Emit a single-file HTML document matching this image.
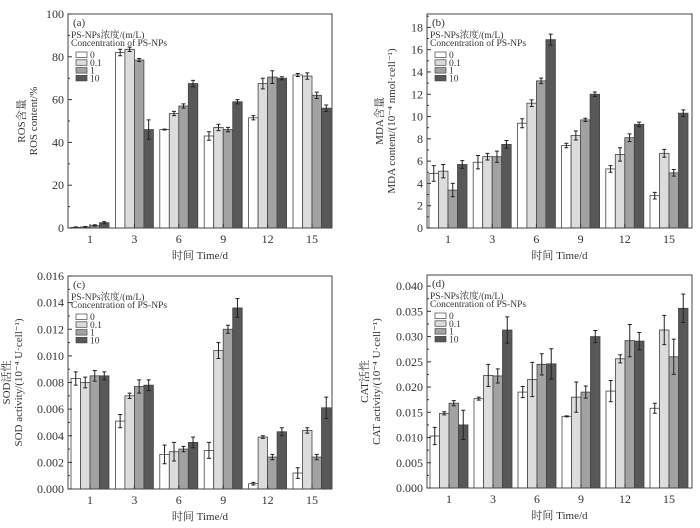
<!DOCTYPE html>
<html><head><meta charset="utf-8">
<style>
html,body{margin:0;padding:0;background:#fff;}
svg text{font-family:"Liberation Serif","Noto Serif CJK SC","Noto Sans CJK SC",serif;fill:#333;}
</style></head>
<body>
<svg id="fig" width="700" height="523" viewBox="0 0 700 523" xmlns="http://www.w3.org/2000/svg"></svg>
<script>
const categories = ["1","3","6","9","12","15"];
const seriesNames = ["0","0.1","1","10"];
const rosValues = [[0.3,0.5,1.2,2.5],[82,83.5,78.5,46],[46,53.5,57,67.5],[43,47,46,59],[51.5,67.5,70.5,70],[71.5,71,62,56]];
const rosErrors = [[0.2,0.2,0.3,0.5],[1.5,1,0.7,4.5],[0.2,1,1,1.5],[2,1.5,1,1],[1,2.5,3,0.7],[0.7,1.5,1.5,1.5]];
const rosTicks = ["0","20","40","60","80","100"];
const mdaValues = [[4.9,5.1,3.4,5.7],[5.9,6.4,6.4,7.5],[9.4,11.2,13.2,16.9],[7.4,8.3,9.7,12],[5.3,6.6,8.1,9.3],[2.9,6.7,4.95,10.3]];
const mdaErrors = [[0.7,0.6,0.6,0.35],[0.6,0.3,0.5,0.35],[0.4,0.3,0.25,0.5],[0.2,0.4,0.15,0.2],[0.3,0.6,0.35,0.2],[0.3,0.35,0.3,0.3]];
const mdaTicks = ["0","2","4","6","8","10","12","14","16","18"];
const sodValues = [[0.0083,0.0080,0.0085,0.0085],[0.0051,0.0070,0.0077,0.0078],[0.0026,0.0028,0.0030,0.0035],[0.0029,0.0104,0.0120,0.0136],[0.0004,0.0039,0.0024,0.0043],[0.0012,0.0044,0.0024,0.0061]];
const sodErrors = [[0.0005,0.0004,0.0004,0.0003],[0.0005,0.0002,0.0005,0.0004],[0.0007,0.0007,0.0002,0.0004],[0.0006,0.0006,0.0003,0.0007],[0.0001,0.0001,0.0002,0.0003],[0.0004,0.0002,0.0002,0.0008]];
const sodTicks = ["0.000","0.002","0.004","0.006","0.008","0.010","0.012","0.014","0.016"];
const catValues = [[0.0103,0.0148,0.0168,0.0125],[0.0177,0.0223,0.0222,0.0313],[0.019,0.0215,0.0245,0.0246],[0.0142,0.018,0.019,0.030],[0.0192,0.0256,0.0292,0.0291],[0.0158,0.0313,0.0260,0.0356]];
const catErrors = [[0.0017,0.0003,0.0005,0.0029],[0.0003,0.0022,0.0014,0.0026],[0.0011,0.0034,0.0021,0.003],[0.0001,0.003,0.0012,0.0012],[0.0021,0.0008,0.0032,0.0017],[0.001,0.0029,0.0035,0.0028]];
const catTicks = ["0.000","0.005","0.010","0.015","0.020","0.025","0.030","0.035","0.040"];

const fills = ["#ffffff","#dcdcdc","#a2a2a2","#585858"];
const NS = "http://www.w3.org/2000/svg";
const svg = document.getElementById("fig");
function mk(tag, attrs, parent, text){
  const e = document.createElementNS(NS, tag);
  for (const k in attrs) e.setAttribute(k, attrs[k]);
  if (text !== undefined) e.textContent = text;
  (parent || svg).appendChild(e);
  return e;
}

function panel(p){
  const g = mk("g", {});
  
  
  const L=p.left, T=p.top, R=p.right, B=p.bottom;
  const y = v => B - (v / p.ymax) * (B - T);
  const x = i => p.c0 + i * (p.c1 - p.c0) / (categories.length - 1);
  const bw = 9.5;
  categories.forEach((c, i) => {
    p.values[i].forEach((v, s) => {
      const bx = x(i) - 2*bw + s*bw;
      const r = mk("rect", {x: bx, y: y(v), width: bw, height: B - y(v), fill: fills[s], stroke: "#444", "stroke-width": 0.8}, g);
      
      
      const e = p.errors[i][s], cx = bx + bw/2;
      const eb = mk("path", {d: `M${cx},${y(v+e)}V${y(v-e)}M${cx-2},${y(v+e)}H${cx+2}M${cx-2},${y(v-e)}H${cx+2}`, stroke: "#222", "stroke-width": 1, fill: "none"}, g);
      
      
    });
    const tl = mk("text", {x: x(i), y: B + 15, "text-anchor": "middle", "font-size": 12}, g, c);
    
    
    mk("line", {x1: x(i), x2: x(i), y1: B, y2: B - 4, stroke: "#333"}, g);
  });
  const fr = mk("rect", {x: L, y: T, width: R - L, height: B - T, fill: "none", stroke: "#444", "stroke-width": 1}, g);
  
  
  p.ticks.forEach((t, k) => {
    const v = k * p.step, yy = y(v);
    mk("line", {x1: L, x2: L + 4, y1: yy, y2: yy, stroke: "#333"}, g);
    const ym = y(v + p.step/2);
    if (ym > T) mk("line", {x1: L, x2: L + 2, y1: ym, y2: ym, stroke: "#333"}, g);
    const tl = mk("text", {x: L - 4, y: yy + 4, "text-anchor": "end", "font-size": 12}, g, t);
    
    
  });
  const cy = (T + B) / 2;
  const yt = mk("text", {transform: `translate(${p.ytx},${cy}) rotate(-90)`, "text-anchor": "middle", "font-size": 11}, g);
  
  
  mk("tspan", {x: 0, y: 0}, yt, p.ycn);
  mk("tspan", {x: 0, y: 12}, yt, p.yen);
  const xt = mk("text", {x: (L + R) / 2, y: B + 31, "text-anchor": "middle", "font-size": 11}, g, "时间 Time/d");
  
  
  const pl = mk("text", {x: L + 5, y: T + 12, "font-size": 11}, g, p.label);
  
  
  const lg = mk("g", {}, g);
  
  
  mk("text", {x: L + 3, y: T + 24, "font-size": 9.5}, lg, "PS-NPs浓度/(m/L)");
  mk("text", {x: L + 3, y: T + 32, "font-size": 9.5}, lg, "Concentration of PS-NPs");
  seriesNames.forEach((n, s) => {
    const ly = T + 38 + s * 7.8;
    const sw = mk("rect", {x: L + 8, y: ly, width: 11, height: 5.5, fill: fills[s], stroke: "#444", "stroke-width": 0.7}, lg);
    
    
    mk("text", {x: L + 22, y: ly + 6, "font-size": 9.5}, lg, n);
  });
}

panel({name:"panel-a-ros", label:"(a)", left:68, top:14, right:332, bottom:228, ymax:100, step:20, ticks:rosTicks, values:rosValues, errors:rosErrors, c0:90, c1:312, ytx:25, ycn:"ROS含量", yen:"ROS content/%"});
panel({name:"panel-b-mda", label:"(b)", left:427, top:14, right:692, bottom:228, ymax:19.2, step:2, ticks:mdaTicks, values:mdaValues, errors:mdaErrors, c0:448, c1:669, ytx:383, ycn:"MDA含量", yen:"MDA content/(10⁻⁴ nmol·cell⁻¹)"});
panel({name:"panel-c-sod", label:"(c)", left:68, top:276, right:332, bottom:489, ymax:0.016, step:0.002, ticks:sodTicks, values:sodValues, errors:sodErrors, c0:90, c1:312, ytx:10, ycn:"SOD活性", yen:"SOD activity/(10⁻⁴ U·cell⁻¹)"});
panel({name:"panel-d-cat", label:"(d)", left:427, top:275, right:692, bottom:488, ymax:0.0422, step:0.005, ticks:catTicks, values:catValues, errors:catErrors, c0:449, c1:669, ytx:368, ycn:"CAT活性", yen:"CAT activity/(10⁻⁴ U·cell⁻¹)"});
</script>
</body></html>
